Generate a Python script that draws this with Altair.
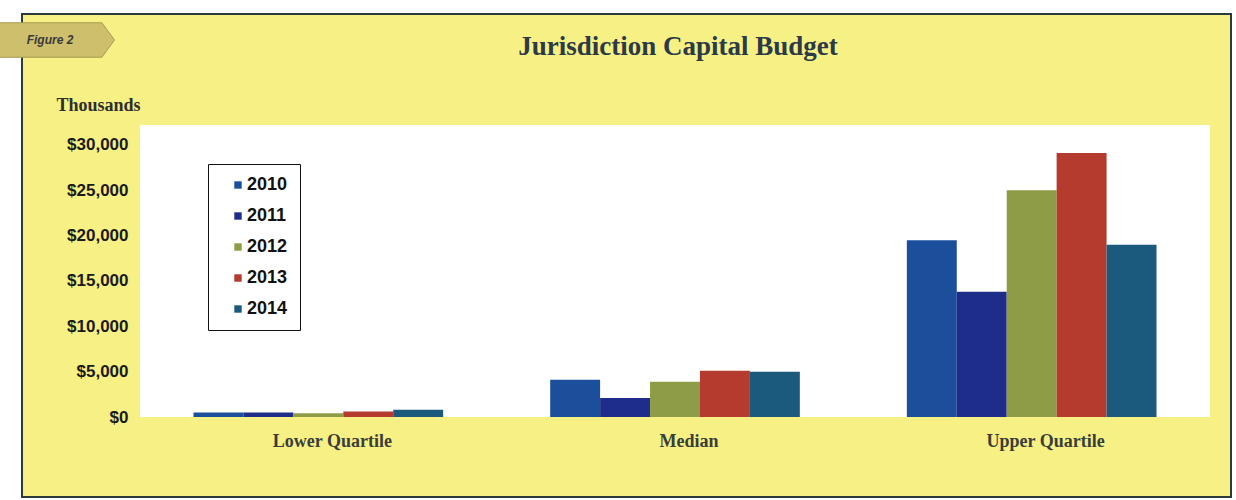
import altair as alt
import pandas as pd

# Capital budget by quartile and year, in thousands of dollars
categories = ["Lower Quartile", "Median", "Upper Quartile"]
years = ["2010", "2011", "2012", "2013", "2014"]
v2010 = [500, 4100, 19500]
v2011 = [500, 2100, 13800]
v2012 = [400, 3900, 25000]
v2013 = [600, 5100, 29100]
v2014 = [800, 5000, 19000]
year_colors = ["#1b4f9c", "#1f2d8a", "#8e9c45", "#b63b2f", "#1b5a7c"]
y_ticks = [0, 5000, 10000, 15000, 20000, 25000, 30000]
chart_title = "Jurisdiction Capital Budget"

rows = []
for yr, vals in zip(years, [v2010, v2011, v2012, v2013, v2014]):
    for cat, v in zip(categories, vals):
        rows.append({"category": cat, "year": yr, "value": v})
df = pd.DataFrame(rows)

W, H = 1070, 292
one = pd.DataFrame({"k": [0]})

# yellow panel with dark frame, behind everything
frame = alt.Chart(one).mark_rect(fill="#f7f185", stroke="#2b3a3a", strokeWidth=2).encode(
    x=alt.value(-118), x2=alt.value(1091), y=alt.value(-111), y2=alt.value(372)
)

# white plot area
plot_bg = alt.Chart(one).mark_rect(fill="white").encode(
    x=alt.value(0), x2=alt.value(W), y=alt.value(0), y2=alt.value(H)
)

bars = alt.Chart(df).mark_bar().encode(
    x=alt.X("category:N", sort=categories, title=None,
            scale=alt.Scale(paddingInner=0.3, paddingOuter=0.15),
            axis=alt.Axis(labelAngle=0, domain=False, ticks=False, labelPadding=15,
                          labelOffset=14,
                          labelFont="Liberation Serif", labelFontWeight="bold",
                          labelFontSize=18, labelColor="#3a3d3a", zindex=2)),
    xOffset=alt.XOffset("year:N", sort=years, scale=alt.Scale(paddingInner=0, paddingOuter=0)),
    y=alt.Y("value:Q", scale=alt.Scale(domain=[0, 32200], nice=False),
            axis=alt.Axis(values=y_ticks, format="$,.0f", domain=False, ticks=False,
                          grid=False, labelPadding=12, labelFont="Liberation Sans",
                          labelFontWeight="bold", labelFontSize=17, labelColor="#1a1a1a",
                          title="Thousands", titleAngle=0, titleX=0, titleY=-20,
                          titleAlign="right", titleBaseline="middle",
                          titleFont="Liberation Serif", titleFontWeight="bold",
                          titleFontSize=18, titleColor="#2e2e2e", zindex=2)),
    color=alt.Color("year:N", sort=years,
                    scale=alt.Scale(domain=years, range=year_colors),
                    legend=alt.Legend(title=None, orient="none", legendX=68, legendY=39,
                                      fillColor="white", strokeColor="#111111",
                                      padding=12, rowPadding=13, symbolOffset=9,
                                      symbolType="square", symbolSize=55,
                                      symbolStrokeWidth=0, labelOffset=0,
                                      labelFont="Liberation Sans", labelFontWeight="bold",
                                      labelFontSize=18, labelColor="#111111")),
)

# chart heading above the plot area
heading = alt.Chart(one).mark_text(text=chart_title, font="Liberation Serif", fontSize=27,
                                   fontWeight="bold", color="#2c3a48",
                                   baseline="middle", align="center").encode(
    x=alt.value(538), y=alt.value(-78)
)

# "Figure 2" tab in the top-left corner
tab_shape = "M-1,-0.3 L0.78,-0.3 L1,0 L0.78,0.3 L-1,0.3 Z"
tab = alt.Chart(one).mark_point(shape=tab_shape, filled=True, fill="#cdbf6c",
                                stroke="#a69b4e", strokeWidth=1, opacity=1).encode(
    x=alt.value(-83), y=alt.value(-85), size=alt.value(13225)
)
tab_text = alt.Chart(one).mark_text(text="Figure 2", font="Liberation Sans", fontSize=12,
                                    fontStyle="italic", fontWeight="bold",
                                    color="#3a3a3a").encode(
    x=alt.value(-90), y=alt.value(-85)
)

chart = alt.layer(frame, plot_bg, bars, heading, tab, tab_text).properties(
    width=W, height=H,
    background="white",
    padding={"left": 140, "top": 125, "right": 26, "bottom": 83},
    autosize=alt.AutoSizeParams(type="none"),
).configure_view(stroke=None)

chart.save("out.html", embed_options={"renderer": "svg", "actions": False})
